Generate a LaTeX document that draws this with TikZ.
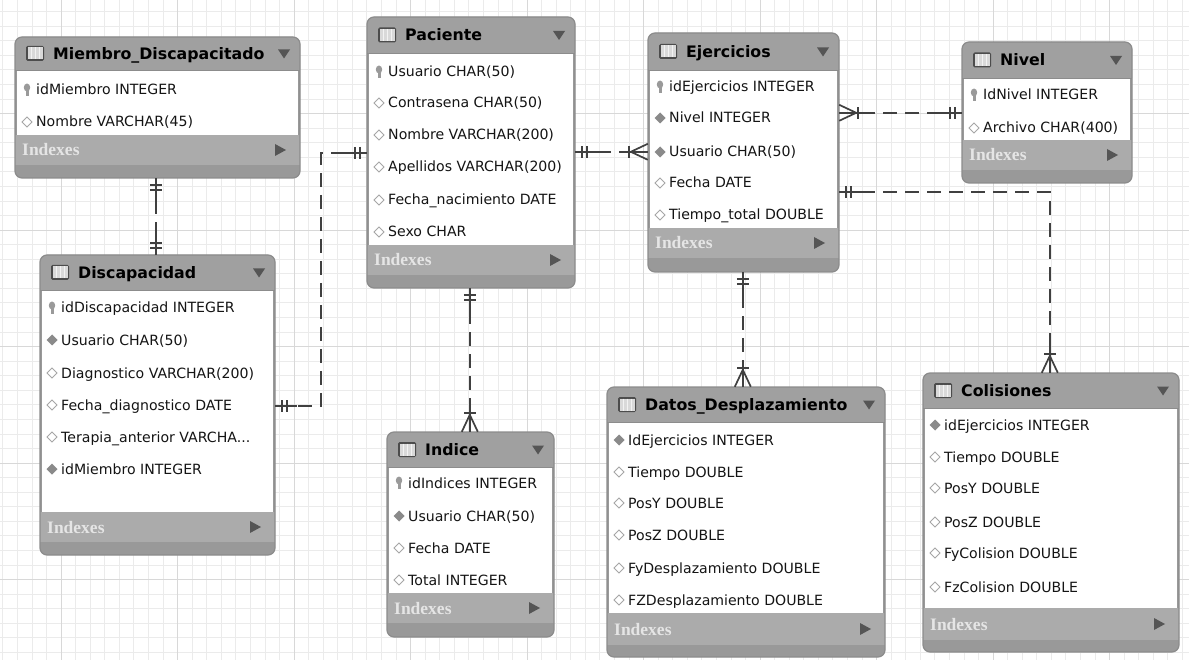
\documentclass[tikz,border=0pt]{standalone}
\usepackage{fontspec}
\setmainfont{DejaVu Sans}
\newfontfamily\idxfont{Liberation Serif}
\usetikzlibrary{calc,fit}
\definecolor{hdrc}{HTML}{A0A0A0}
\definecolor{bandc}{HTML}{ABABAB}
\definecolor{botc}{HTML}{999999}
\definecolor{bordc}{HTML}{8C8C8C}
\definecolor{lnc}{HTML}{404040}
\definecolor{tric}{HTML}{555555}
\definecolor{keyc}{HTML}{9A9A9A}
\definecolor{fkc}{HTML}{8A8A8A}
\definecolor{gmin}{HTML}{EBEBEB}
\definecolor{gmaj}{HTML}{D8D8D8}
\tikzset{
  rowt/.style={anchor=base west, inner sep=0, font=\fontsize{14.1}{16}\selectfont, text=black!92},
  ttl/.style={anchor=base west, inner sep=0, font=\fontsize{15.8}{18}\selectfont\bfseries, text=black},
  idx/.style={anchor=base west, inner sep=0, font=\idxfont\fontsize{17.5}{19}\selectfont\bfseries, text=white!90!black},
  conn/.style={draw=lnc, line width=1.7pt, dash pattern=on 14pt off 8pt},
  mk/.style={draw=lnc, line width=1.7pt},
  tblic/.pic={\fill[gray!60!black, rounded corners=1.5pt] (-9,-7.5) rectangle (9,7.5);
              \fill[gray!30] (-7.5,-6) rectangle (7.5,6);
              \draw[white!90!gray, line width=0.9pt] (-3.5,-6) -- (-3.5,6) (0.5,-6) -- (0.5,6) (4.5,-6) -- (4.5,6);},
  keyic/.pic={\fill[keyc] (0,-2.5) ellipse (3.2pt and 4pt); \fill[keyc] (-1.5,0) rectangle (1.5,6);},
  fkic/.pic={\fill[fkc] (0,-5.5) -- (5.5,0) -- (0,5.5) -- (-5.5,0) -- cycle;},
  hkic/.pic={\draw[gray!70, line width=0.9pt, fill=white] (0,-5) -- (5,0) -- (0,5) -- (-5,0) -- cycle;},
  dntri/.pic={\fill[tric] (-6,-4) -- (6,-4) -- (0,5) -- cycle;},
  rttri/.pic={\fill[tric] (-5,-6) -- (6,0) -- (-5,6) -- cycle;}
}
% #1 name, #2 x1, #3 y1, #4 x2, #5 yhdr, #6 ywhite, #7 yband, #8 ybot, #9 title
\newcommand\erd[9]{%
  \fill[botc, rounded corners=7pt] (#2,#3) rectangle (#4,#8);
  \fill[hdrc] (#2,#5) [rounded corners=7pt] -- (#2,#3) -- (#4,#3) [sharp corners] -- (#4,#5) -- cycle;
  \fill[white] ({#2+2},#5) rectangle ({#4-2},#6);
  \fill[bandc] (#2,#6) rectangle (#4,#7);
  \draw[bordc, line width=1.2pt, rounded corners=7pt] (#2,#3) rectangle (#4,#8);
  \draw[bordc, line width=0.8pt] (#2,#5) -- (#4,#5);
  \pic at ({#2+20},{(#3+#5)/2}) {tblic};
  \node[ttl] at ({#2+38},{(#3+#5)/2+6}) {#9};
  \pic at ({#4-16},{(#3+#5)/2}) {dntri};
  \node[idx] at ({#2+7},{(#6+#7)/2+6}) {Indexes};
  \pic at ({#4-20},{(#6+#7)/2}) {rttri};
  \path (#2,#3) coordinate (#1-nw) (#4,#8) coordinate (#1-se);
  \node[inner sep=0, fit=(#1-nw)(#1-se)] (#1) {};
}
\newcommand\rowK[3]{\pic at ({#1+12},#2) {keyic}; \node[rowt] at ({#1+21},{#2+5}) {#3};}
\newcommand\rowF[3]{\pic at ({#1+12},#2) {fkic}; \node[rowt] at ({#1+21},{#2+5}) {#3};}
\newcommand\rowH[3]{\pic at ({#1+12},#2) {hkic}; \node[rowt] at ({#1+21},{#2+5}) {#3};}
% one and only one: #1 coordinate at entity, (#2,#3) direction away from entity
\newcommand\mone[3]{%
  \draw[mk] (#1) -- ($(#1)+({22*(#2)},{22*(#3)})$);
  \draw[mk] ($(#1)+({7*(#2)-6*(#3)},{7*(#3)+6*(#2)})$) -- ++({12*(#3)},{-12*(#2)});
  \draw[mk] ($(#1)+({12*(#2)-6*(#3)},{12*(#3)+6*(#2)})$) -- ++({12*(#3)},{-12*(#2)});
}
% one or many
\newcommand\mmany[3]{%
  \draw[mk] (#1) -- ($(#1)+({26*(#2)},{26*(#3)})$);
  \draw[mk] ($(#1)+({8*(0-(#3))},{8*(#2)})$) -- ($(#1)+({17*(#2)},{17*(#3)})$) -- ($(#1)+({-8*(0-(#3))},{-8*(#2)})$);
  \draw[mk] ($(#1)+({19*(#2)-6*(#3)},{19*(#3)+6*(#2)})$) -- ++({12*(#3)},{-12*(#2)});
}
\begin{document}
\begin{tikzpicture}[x=1pt,y=-1pt]
\useasboundingbox (0,0) rectangle (1189,660);
\fill[white] (0,0) rectangle (1189,660);
\begin{scope}
\clip (0,0) rectangle (1189,660);
\foreach \i in {-36,...,45} {\draw[gmin, line width=0.7pt] ({527+\i*14.5625},0) -- ({527+\i*14.5625},660);}
\foreach \i in {-16,...,30} {\draw[gmin, line width=0.7pt] (0,{230+\i*14.5625}) -- (1189,{230+\i*14.5625});}
\foreach \i in {-5,...,6} {\draw[gmaj, line width=0.9pt] ({527+\i*116.5},0) -- ({527+\i*116.5},660);}
\foreach \i in {-2,...,4} {\draw[gmaj, line width=0.9pt] (0,{230+\i*116.5}) -- (1189,{230+\i*116.5});}
\end{scope}

% tables
\erd{mie}{15}{37}{300}{70}{135}{165}{178}{Miembro\_Discapacitado}
\rowK{15}{90}{idMiembro INTEGER}
\rowH{15}{122}{Nombre VARCHAR(45)}

\erd{pac}{367}{17}{575}{53}{245}{275}{288}{Paciente}
\rowK{367}{72}{Usuario CHAR(50)}
\rowH{367}{103}{Contrasena CHAR(50)}
\rowH{367}{135}{Nombre VARCHAR(200)}
\rowH{367}{167}{Apellidos VARCHAR(200)}
\rowH{367}{200}{Fecha\_nacimiento DATE}
\rowH{367}{232}{Sexo CHAR}

\erd{ej}{648}{33}{839}{70}{228}{258}{272}{Ejercicios}
\rowK{648}{87}{idEjercicios INTEGER}
\rowF{648}{118}{Nivel INTEGER}
\rowF{648}{152}{Usuario CHAR(50)}
\rowH{648}{183}{Fecha DATE}
\rowH{648}{215}{Tiempo\_total DOUBLE}

\erd{niv}{962}{42}{1132}{78}{140}{170}{183}{Nivel}
\rowK{962}{95}{IdNivel INTEGER}
\rowH{962}{128}{Archivo CHAR(400)}

\erd{dis}{40}{255}{275}{290}{512}{542}{555}{Discapacidad}
\rowK{40}{308}{idDiscapacidad INTEGER}
\rowF{40}{340}{Usuario CHAR(50)}
\rowH{40}{373}{Diagnostico VARCHAR(200)}
\rowH{40}{405}{Fecha\_diagnostico DATE}
\rowH{40}{437}{Terapia\_anterior VARCHA...}
\rowF{40}{469}{idMiembro INTEGER}

\erd{ind}{387}{432}{554}{467}{593}{623}{637}{Indice}
\rowK{387}{483}{idIndices INTEGER}
\rowF{387}{516}{Usuario CHAR(50)}
\rowH{387}{548}{Fecha DATE}
\rowH{387}{580}{Total INTEGER}

\erd{dat}{607}{387}{885}{422}{613}{645}{657}{Datos\_Desplazamiento}
\rowF{607}{440}{IdEjercicios INTEGER}
\rowH{607}{472}{Tiempo DOUBLE}
\rowH{607}{503}{PosY DOUBLE}
\rowH{607}{535}{PosZ DOUBLE}
\rowH{607}{568}{FyDesplazamiento DOUBLE}
\rowH{607}{600}{FZDesplazamiento DOUBLE}

\erd{col}{923}{373}{1179}{408}{608}{640}{652}{Colisiones}
\rowF{923}{425}{idEjercicios INTEGER}
\rowH{923}{457}{Tiempo DOUBLE}
\rowH{923}{488}{PosY DOUBLE}
\rowH{923}{522}{PosZ DOUBLE}
\rowH{923}{553}{FyColision DOUBLE}
\rowH{923}{587}{FzColision DOUBLE}

% connectors
\coordinate (c1a) at ([xshift=141pt]mie.south west);
\coordinate (c1b) at ([xshift=116pt]dis.north west);
\draw[conn] (c1a) -- (c1b);
\mone{c1a}{0}{1}
\mone{c1b}{0}{-1}

\coordinate (c2a) at ([yshift=-136pt]pac.north west);
\coordinate (c2b) at ([yshift=-151pt]dis.north east);
\coordinate (c2m) at ($(c2a)+(-46,0)$);
\draw[conn] (c2a) -- (c2m) |- (c2b);
\mone{c2a}{-1}{0}
\mone{c2b}{1}{0}

\coordinate (c3a) at ([yshift=-135pt]pac.north east);
\coordinate (c3b) at ([yshift=-119pt]ej.north west);
\draw[conn] (c3a) -- (c3b);
\mone{c3a}{1}{0}
\mmany{c3b}{-1}{0}

\coordinate (c4a) at ([yshift=-80pt]ej.north east);
\coordinate (c4b) at ([yshift=-71pt]niv.north west);
\draw[conn] (c4a) -- (c4b);
\mmany{c4a}{1}{0}
\mone{c4b}{-1}{0}

\coordinate (c5a) at ([yshift=-159pt]ej.north east);
\coordinate (c5b) at ([xshift=127pt]col.north west);
\draw[conn] (c5a) -| (c5b);
\mone{c5a}{1}{0}
\mmany{c5b}{0}{-1}

\coordinate (c6a) at ([xshift=95pt]ej.south west);
\coordinate (c6b) at ([xshift=136pt]dat.north west);
\draw[conn] (c6a) -- (c6b);
\mone{c6a}{0}{1}
\mmany{c6b}{0}{-1}

\coordinate (c7a) at ([xshift=103pt]pac.south west);
\coordinate (c7b) at ([xshift=83pt]ind.north west);
\draw[conn] (c7a) -- (c7b);
\mone{c7a}{0}{1}
\mmany{c7b}{0}{-1}
\end{tikzpicture}
\end{document}
